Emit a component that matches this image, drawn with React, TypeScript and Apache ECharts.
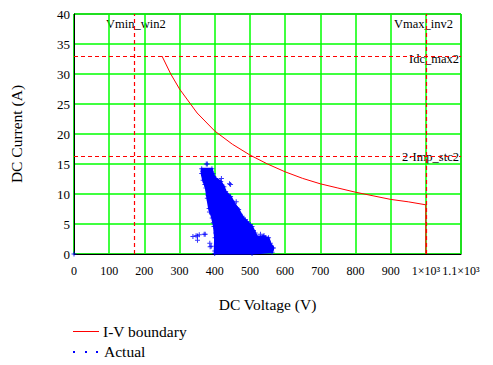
import React, { useEffect, useRef } from "react";
import * as echarts from "echarts";

// I-V boundary curve (V, A)
const boundaryV = [250, 275, 300, 350, 400, 450, 500, 550, 600, 650, 700, 750, 800, 850, 900, 950, 1000, 1000];
const boundaryI = [33, 30, 27.5, 23.5, 20.5, 18.3, 16.5, 15, 13.7, 12.6, 11.7, 11, 10.3, 9.7, 9.1, 8.7, 8.2, 0];

// limit markers
const vminWin2 = 172;
const vmaxInv2 = 1000;
const idcMax2 = 33;
const impStc2x2 = 16.3;

// outline of the dense "Actual" cluster (V, A)
const clusterOutline: [number, number][] = [
  [363, 14.2], [392, 14.2], [395, 13.4], [403, 12.6], [417, 12.1], [426, 11.2],
  [431, 10.4], [445, 9.6], [455, 8.5], [468, 7.4], [478, 6.3], [492, 5.4],
  [506, 4.6], [515, 3.5], [520, 2.9], [538, 2.9], [553, 2.7], [558, 1.8],
  [567, 1.0], [563, 0.3], [506, 0.1], [400, 0.1], [400, 0.5], [401, 2.7],
  [398, 4.6], [393, 6.0], [384, 7.6], [379, 9.3], [375, 11.0], [367, 12.3],
  [363, 13.4],
];

// individual "Actual" points (edges and outliers)
const actualV = [0, 376, 379, 419, 442, 445, 461, 461, 464, 338, 347, 351, 351, 356, 370, 373, 386, 387, 390, 403, 409, 419, 422, 436, 501, 487, 530, 545, 560, 366, 370, 385, 372, 381, 396, 410, 430, 450, 470, 490, 510, 540];
const actualI = [0, 15, 15, 12.6, 11.7, 11.6, 8.7, 7.4, 7.6, 2.9, 3.05, 3.0, 2.3, 3.2, 3.3, 3.3, 1.8, 1.2, 1.3, 3.5, 0.95, 1.5, 1.7, 1.5, 4.9, 5.7, 3.3, 2.2, 0.8, 13.8, 13.0, 7.0, 11.6, 9.8, 5.2, 11.8, 10.0, 8.0, 6.5, 5.0, 3.9, 3.1];

const SERIF = "Liberation Serif";
const plus = "path://M2,0 L3,0 L3,2 L5,2 L5,3 L3,3 L3,5 L2,5 L2,3 L0,3 L0,2 L2,2 Z";

const txt = (size: number) => ({ fontSize: size, fontFamily: SERIF, fill: "#000" });

export default function App() {
  const ref = useRef<HTMLDivElement>(null);
  useEffect(() => {
    const chart = echarts.init(ref.current!, null, { renderer: "svg" });
    const fmtX = (v: number) => {
      if (v === 1000) return "1×10³";
      if (v === 1100) return "1.1×10³";
      return String(v);
    };
    chart.setOption({
      animation: false,
      backgroundColor: "#ffffff",
      textStyle: { fontFamily: SERIF },
      grid: {
        left: 72, top: 14, right: 32, bottom: 111,
        show: true, borderColor: "#000", borderWidth: 1, backgroundColor: "transparent",
      },
      xAxis: {
        type: "value", min: 0, max: 1100, interval: 100,
        name: "DC Voltage (V)", nameLocation: "middle", nameGap: 42,
        nameTextStyle: { fontFamily: SERIF, fontSize: 15.5, color: "#000" },
        axisLine: { lineStyle: { color: "#000", width: 1 } },
        axisTick: { show: false },
        splitLine: { show: true, lineStyle: { color: "#00ff00", width: 1.5 } },
        axisLabel: {
          formatter: fmtX, margin: 11, color: "#000", fontFamily: SERIF, fontSize: 12,
          showMinLabel: true, showMaxLabel: true,
        },
      },
      yAxis: {
        type: "value", min: 0, max: 40, interval: 5,
        name: "DC Current (A)", nameLocation: "middle", nameGap: 50,
        nameTextStyle: { fontFamily: SERIF, fontSize: 15.5, color: "#000" },
        axisLine: { show: true, lineStyle: { color: "#000", width: 1 } },
        axisTick: { show: false },
        splitLine: { show: true, lineStyle: { color: "#00ff00", width: 1.5 } },
        axisLabel: { margin: 4, color: "#000", fontFamily: SERIF, fontSize: 13 },
      },
      series: [
        {
          name: "Actual cluster",
          type: "custom",
          data: clusterOutline,
          z: 3,
          renderItem: (params: any, api: any) => {
            if (params.dataIndex !== 0) return null;
            const pts = clusterOutline.map((p) => api.coord(p));
            return { type: "polygon", shape: { points: pts }, style: { fill: "#0000ff", stroke: "#0000ff", lineWidth: 2 } };
          },
        },
        {
          name: "Actual",
          type: "scatter",
          data: actualV.map((v, i) => [v, actualI[i]]).concat(clusterOutline),
          symbol: plus,
          symbolSize: 5,
          itemStyle: { color: "#0000ff" },
          z: 4,
        },
        {
          name: "I-V boundary",
          type: "line",
          data: boundaryV.map((v, i) => [v, boundaryI[i]]),
          smooth: false,
          showSymbol: false,
          lineStyle: { color: "#ff0000", width: 1 },
          z: 5,
          markLine: {
            silent: true,
            symbol: "none",
            label: { show: false },
            lineStyle: { color: "#ff0000", type: [4, 3], width: 1.2 },
            data: [
              { xAxis: vminWin2 },
              { xAxis: vmaxInv2 },
              { yAxis: idcMax2 },
              { yAxis: impStc2x2 },
            ],
          },
        },
      ],
      graphic: [
        { type: "text", left: 106, top: 17, style: { text: "Vmin_win2", ...txt(12.5) } },
        { type: "text", right: 40, top: 17, style: { text: "Vmax_inv2", ...txt(12.5) } },
        { type: "text", right: 34, top: 52, style: { text: "Idc_max2", ...txt(12.5) } },
        { type: "text", right: 34, top: 150, style: { text: "2·Imp_stc2", ...txt(12.5) } },
        { type: "line", shape: { x1: 73, y1: 331.5, x2: 99, y2: 331.5 }, style: { stroke: "#ff0000", lineWidth: 1 } },
        { type: "text", left: 103, top: 323, style: { text: "I-V boundary", ...txt(15.5) } },
        { type: "rect", shape: { x: 73, y: 351, width: 2, height: 2 }, style: { fill: "#0000ff" } },
        { type: "rect", shape: { x: 85, y: 351, width: 2, height: 2 }, style: { fill: "#0000ff" } },
        { type: "rect", shape: { x: 96, y: 351, width: 2, height: 2 }, style: { fill: "#0000ff" } },
        { type: "text", left: 104, top: 343, style: { text: "Actual", ...txt(15.5) } },
      ],
    });
    return () => chart.dispose();
  }, []);
  return <div ref={ref} style={{ position: "fixed", left: 0, top: 0, width: 493, height: 365 }} />;
}
